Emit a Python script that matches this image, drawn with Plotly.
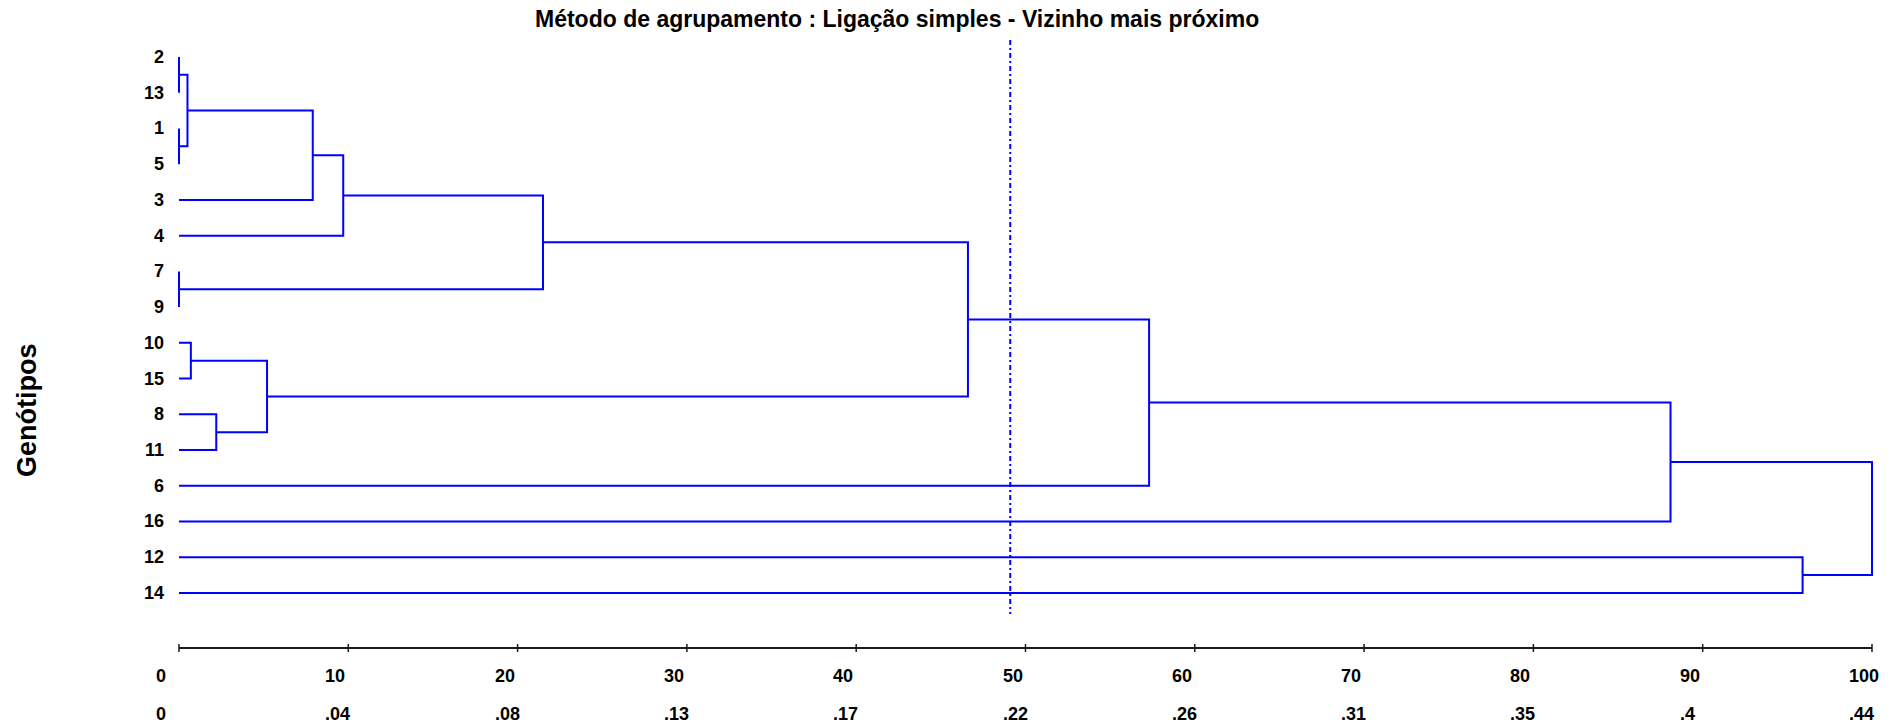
import plotly.graph_objects as go

# ---- data -------------------------------------------------------------
leaves = ["2", "13", "1", "5", "3", "4", "7", "9",
          "10", "15", "8", "11", "6", "16", "12", "14"]

# agglomeration steps: (cluster A, cluster B, fusion level on the 0-100 scale)
merge_a = ["2", "1", "m1", "m3", "m4", "7", "m5", "10", "8", "m8", "m7", "m11", "m12", "12", "m13"]
merge_b = ["13", "5", "m2", "3", "4", "9", "m6", "15", "11", "m9", "m10", "6", "16", "14", "m14"]
merge_h = [0.0, 0.0, 0.5, 7.9, 9.7, 0.0, 21.5, 0.7, 2.2, 5.2, 46.6, 57.3, 88.1, 95.9, 100.0]

cut_level = 49.1

scale_ticks = [0, 10, 20, 30, 40, 50, 60, 70, 80, 90, 100]
scale_row1 = ["0", "10", "20", "30", "40", "50", "60", "70", "80", "90", "100"]
scale_row2 = ["0", ".04", ".08", ".13", ".17", ".22", ".26", ".31", ".35", ".4", ".44"]

# ---- page geometry (pixels) -------------------------------------------
W, H = 1899, 727
X0_PX, X100_PX = 179, 1872          # where 0 and 100 fall
LEAF0_PX, LEAF_STEP_PX = 57, 35.73  # first leaf row and row spacing

ppu = (X100_PX - X0_PX) / 100.0
x_range = [-X0_PX / ppu, (W - X0_PX) / ppu]
y_range = [(H - LEAF0_PX) / LEAF_STEP_PX, -LEAF0_PX / LEAF_STEP_PX]  # reversed


def row(px):
    """convert a vertical pixel position to leaf-row units"""
    return (px - LEAF0_PX) / LEAF_STEP_PX


BLUE = "#0000FF"
LABEL_FONT = "Liberation Sans Narrow, Arial Narrow, Liberation Sans, Arial, sans-serif"

# ---- build dendrogram segments ------------------------------------------
pos = {name: (0.0, float(i)) for i, name in enumerate(leaves)}   # name -> (height, y)
xs, ys = [], []
for k, (a, b, h) in enumerate(zip(merge_a, merge_b, merge_h), start=1):
    ha, ya = pos[a]
    hb, yb = pos[b]
    xs += [ha, h, h, hb, None]
    ys += [ya, ya, yb, yb, None]
    pos[f"m{k}"] = (h, (ya + yb) / 2.0)

fig = go.Figure()

fig.add_trace(go.Scatter(
    x=xs, y=ys, mode="lines",
    line=dict(color=BLUE, width=2),
    hoverinfo="skip", showlegend=False,
))

# cut line
fig.add_trace(go.Scatter(
    x=[cut_level, cut_level], y=[row(40), row(614)], mode="lines",
    line=dict(color=BLUE, width=2, dash="5px,3px,2px,3px"),
    hoverinfo="skip", showlegend=False,
))

# distance scale: baseline + tick marks
axis_y = row(648)
fig.add_trace(go.Scatter(
    x=[scale_ticks[0], scale_ticks[-1]], y=[axis_y, axis_y], mode="lines",
    line=dict(color="#1a1a1a", width=2),
    hoverinfo="skip", showlegend=False,
))
tx, ty = [], []
for t in scale_ticks:
    tx += [t, t, None]
    ty += [axis_y - 0.11, axis_y + 0.11, None]
fig.add_trace(go.Scatter(
    x=tx, y=ty, mode="lines",
    line=dict(color="#1a1a1a", width=1.5),
    hoverinfo="skip", showlegend=False,
))

annotations = []
# scale labels, two rows
for t, r1, r2 in zip(scale_ticks, scale_row1, scale_row2):
    for text, py in ((r1, 676), (r2, 714)):
        annotations.append(dict(
            x=t, y=row(py), xref="x", yref="y", text=f"<b>{text}</b>",
            showarrow=False, xanchor="left", yanchor="middle", xshift=-25,
            font=dict(family=LABEL_FONT, size=18, color="black"),
        ))

# leaf labels
for i, name in enumerate(leaves):
    annotations.append(dict(
        x=0, y=i, xref="x", yref="y", text=f"<b>{name}</b>",
        showarrow=False, xanchor="right", yanchor="middle", xshift=-13,
        font=dict(family=LABEL_FONT, size=18, color="black"),
    ))

# vertical axis title
annotations.append(dict(
    x=27 / W, y=1 - 410 / H, xref="paper", yref="paper",
    text="<b>Genótipos</b>", textangle=-90, showarrow=False,
    xanchor="center", yanchor="middle",
    font=dict(family="Liberation Sans, Arial, sans-serif", size=27, color="black"),
))

# chart title
annotations.append(dict(
    x=897 / W, y=1 - 19 / H, xref="paper", yref="paper",
    text="<b>Método de agrupamento : Ligação simples - Vizinho mais próximo</b>",
    showarrow=False, xanchor="center", yanchor="middle",
    font=dict(family=LABEL_FONT, size=23, color="black"),
))

fig.update_layout(
    width=W, height=H,
    margin=dict(l=0, r=0, t=0, b=0),
    paper_bgcolor="white", plot_bgcolor="white",
    xaxis=dict(range=x_range, visible=False, fixedrange=True),
    yaxis=dict(range=y_range, visible=False, fixedrange=True),
    annotations=annotations,
    showlegend=False,
)

fig.write_html("out.html")
